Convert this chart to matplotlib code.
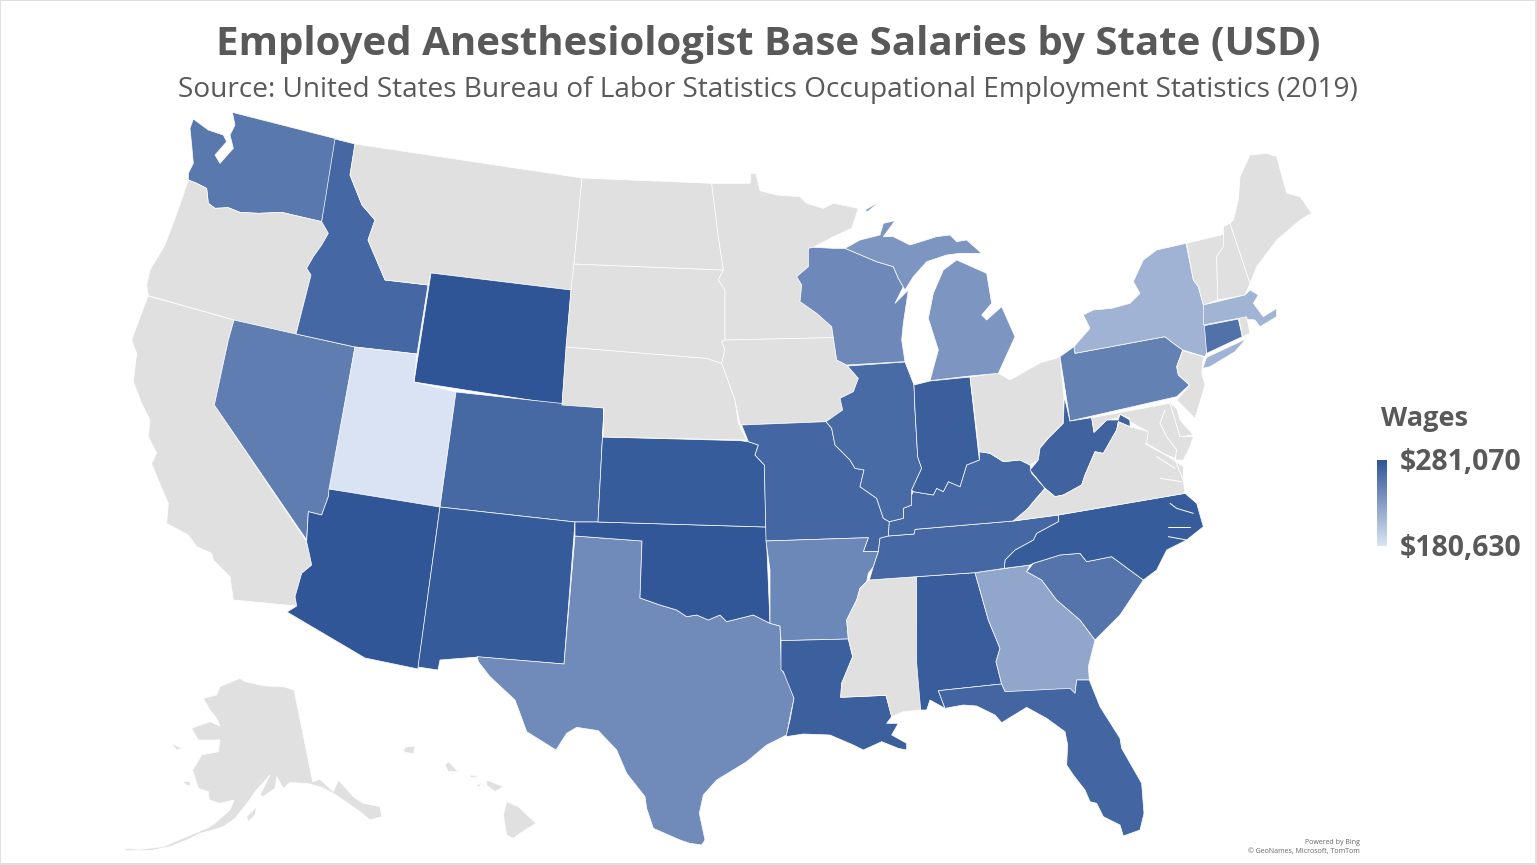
import numpy as np
import matplotlib
matplotlib.use("Agg")
import matplotlib.pyplot as plt
from matplotlib.colors import LinearSegmentedColormap, Normalize
from matplotlib.patches import Polygon, Rectangle

TITLE = "Employed Anesthesiologist Base Salaries by State (USD)"
SUBTITLE = "Source: United States Bureau of Labor Statistics Occupational Employment Statistics (2019)"
LEGEND_TITLE = "Wages"
CREDIT = ["Powered by Bing", "\u00a9 GeoNames, Microsoft, TomTom"]

WAGE_MIN = 180630
WAGE_MAX = 281070

# Wages read from shading. States with no published figure are absent (grey).
STATE_CODES = ["WY", "AZ", "OK", "NM", "KS", "NC", "AL", "LA", "IN", "WV", "FL", "KY", "TN", "MO",
               "ID", "CO", "IL", "SC", "CT", "WA", "NV", "PA", "AR", "TX", "WI", "MI", "GA", "NY", "MA", "UT"]
WAGES = [281070, 280000, 279500, 276500, 276000, 276000, 275000, 273000, 274000, 270500, 269000,
         268000, 268000, 268500, 268000, 267500, 266000, 259000, 261000, 256000, 253000, 250000,
         245000, 243000, 244000, 235000, 223800, 214800, 214000, 180630]


def z(points, x0, y0):
    return [(x0 + a / 3, y0 + b / 3) for a, b in points]


def w(points):  # west coast crop
    return z(points, 125, 105)


def c(points):  # California crop
    return z(points, 125, 340)


def t(points):  # Texas crop
    return z(points, 470, 600)


def g(points):  # Gulf crop
    return z(points, 770, 620)


def m(points):  # upper Midwest crop
    return z(points, 690, 160)


def r(points):  # river states crop
    return z(points, 740, 410)


def a(points):  # Atlantic crop
    return z(points, 1020, 380)


def l(points):  # Great Lakes crop
    return z(points, 780, 190)


def n(points):  # north-east crop
    return z(points, 1050, 140)


def k(points):  # Alaska and Hawaii crop
    return z(points, 120, 660)


# State outlines in its own pixel frame.
OUTLINES = {
    "WA": [w([(205,42),(250,75),(295,90),(305,110),(270,150),(285,175),(325,130),(315,90),(330,60),(322,22),(640,103),(590,350),(470,322),(400,325),(345,322),(310,308),(270,310),(250,295),(245,250),(215,235),(190,225),(190,205),(205,175),(200,120),(195,70)])],
    "OR": [w([(190,225),(215,235),(245,250),(250,295),(270,310),(310,308),(345,322),(400,325),(470,322),(590,350),(610,385),(590,420),(565,455),(545,490),(558,510),(512,688),(327,645),(70,572),(65,540),(75,495),(120,420),(150,340),(175,270)])],
    "CA": [[(148,296),(234,320)] + c([(310,0),(268,195),(545,605),(560,675),(530,700),(510,770),(515,798),(325,780),(315,710),(265,660),(260,640),(215,620),(190,585),(125,550),(130,490),(100,420),(80,370),(95,340),(70,290),(75,240),(50,190),(25,125),(35,40),(20,0)])],
    "NV": [[(234,320),(296,334),(355,347)] + c([(610,470),(590,525),(550,515),(545,600),(268,195),(310,0)])],
    "ID": [[(335,139),(355,144),(350,175),(362,205),(375,220),(368,240),(385,280),(428,285),(417,354),(355,347),(296,334)] + w([(558,510),(545,490),(565,455),(590,420),(610,385),(590,350)])],
    "MT": [[(355,144),(582,178),(574,264),(571,290),(431,273),(428,285),(385,280),(368,240),(375,220),(362,205),(350,175)]],
    "WY": [[(431,273),(571,290),(562,405),(414,382)]],
    "UT": [[(355,347),(417,354),(414,382),(456,392),(440,507),(329,489)]],
    "CO": [[(456,392),(604,408),(598,522),(575,522),(440,507)]],
    "AZ": [[(329,489),(440,507),(418,669),(365,658),(287,612)] + c([(515,798),(510,770),(530,700),(560,675),(545,605),(550,515),(590,525),(610,470)])],
    "NM": [[(440,507),(575,522),(564,664),(478,657),(440,660),(438,670),(418,667)]],
    "TX": [[(575,536),(642,541),(640,598)] + t([(570,15),(620,30),(650,50),(680,45),(715,60),(750,45),(770,65),(850,45),(900,70),(930,78),(935,210),(955,240),(972,295),(960,350),(950,405),(890,435),(830,485),(740,540),(700,585),(688,640),(705,720),(695,735),(660,730),(630,720),(550,685),(530,625),(525,590),(470,520),(440,450),(385,392),(320,382),(290,400),(258,450),(170,395),(150,340),(135,300),(60,230),(25,185),(22,170),(282,192)])],
    "OK": [[(575,522),(598,522),(766,527)] + t([(900,70)]) + t([(850,45),(770,65),(750,45),(715,60),(680,45),(650,50),(620,30),(570,15)]) + [(640,598),(642,541),(575,536)]],
    "KS": [[(603,437)] + r([(0,92),(25,95),(55,105),(45,135),(73,165)]) + [(766,527),(598,522),(604,408)]],
    "NE": [[(566,347)] + m([(50,595),(95,610),(110,650),(135,720),(145,790),(170,840)]) + [(603,437),(604,408),(562,405)]],
    "SD": [[(574,264)] + m([(100,330),(85,360),(105,390),(105,540),(95,545),(105,570),(95,610),(50,595)]) + [(566,347),(571,290)]],
    "ND": [[(582,178)] + m([(65,70),(85,230),(100,330)]) + [(574,264)]],
    "MN": [m([(65,70),(180,70),(183,40),(198,42),(210,92),(260,105),(330,110),(350,130),(400,145),(430,130),(505,145),(485,205),(430,230),(370,262),(355,265),(355,320),(320,350),(335,375),(330,425),(380,460),(425,500),(430,533),(105,540),(105,390),(85,360),(100,330),(85,230)])],
    "IA": [m([(105,540),(430,533),(440,600),(470,615),(505,655),(490,695),(450,715),(458,750),(430,800),(405,785),(150,795),(135,720),(110,650),(95,610),(105,570),(95,545)])],
    "MO": [r([(5,45),(258,35),(275,55),(285,105),(330,150),(345,175),(372,180),(360,230),(410,265),(430,325),(448,335),(445,378),(420,385),(415,425),(370,425),(385,383),(78,393),(73,165),(45,135),(55,105),(25,95)])],
    "AR": [r([(78,393),(385,383),(370,425),(415,425),(400,470),(385,490),(380,515),(360,535),(350,570)]) + g([(230,0),(235,57),(33,62)]) + t([(930,78),(900,70)]) + r([(90,480)])],
    "LA": [g([(33,62),(235,57),(248,110),(215,190),(212,232),(348,226),(365,290),(350,310),(385,310),(365,345),(410,370),(410,390),(385,385),(335,365),(280,390),(250,375),(180,345),(100,342),(48,350),(60,300),(72,235),(40,155),(33,150)])],
    "MS": [r([(388,510),(530,500)]) + g([(440,0),(452,270),(400,275),(365,290),(348,226),(212,232),(215,190),(248,110),(235,57),(230,0)]) + r([(350,570),(360,535),(380,515)])],
    "AL": [r([(530,500),(705,488)]) + g([(655,0),(690,85),(678,125),(695,192),(505,212),(525,265),(480,240),(470,270),(452,270),(440,130),(440,0)])],
    "GA": [r([(705,488),(870,465),(860,485),(905,510),(950,570)]) + g([(930,0),(975,60),(955,140),(958,180),(920,180),(915,220),(705,215),(695,192),(678,125),(690,85),(655,0)])],
    "FL": [g([(505,212),(695,192),(705,215),(900,205),(915,220),(920,180),(958,180),(990,260),(1050,355),(1055,385),(1115,490),(1122,580),(1110,630),(1060,648),(1050,615),(1000,590),(980,550),(960,545),(945,510),(910,465),(890,435),(893,375),(885,335),(830,295),(770,262),(695,308),(675,285),(620,258),(580,255),(525,265)])],
    "SC": [r([(860,485),(880,460),(960,435)]) + a([(180,520),(200,545),(275,530),(370,600)]) + [(1120,615),(1100,635)] + g([(975,60),(930,0)]) + r([(950,570),(905,510)])],
    "NC": [a([(495,340),(115,405)]) + r([(955,335),(890,370),(880,390),(825,420),(795,450),(793,475),(870,465),(880,460),(960,435)]) + a([(180,520),(200,545),(275,530),(370,600),(410,570),(440,510),(500,480),(550,440),(530,370)])],
    "TN": [r([(445,378),(522,372),(525,358),(820,333),(955,315),(955,335),(890,370),(880,390),(825,420),(795,450),(793,475),(705,488),(530,500),(388,510),(400,470),(415,425),(420,385)])],
    "KY": [r([(515,255),(520,245),(580,255),(590,235),(610,245),(625,215),(660,230),(680,165),(718,150),(718,125),(750,130),(790,155),(840,150),(870,165),(875,190),(915,235),(880,275),(860,300),(820,333),(525,358),(522,372),(445,378),(448,335),(490,325),(490,295),(515,285)])],
    "IL": [[(848,366),(905,362),(914,385)] + r([(525,0),(533,140),(545,175),(515,240),(515,285),(490,295),(490,325),(448,335),(430,325),(410,265),(360,230),(372,180),(345,175),(330,150),(285,105),(275,55),(258,35)]) + m([(458,750),(450,715),(490,695),(505,655),(470,615)])],
    "IN": [[(914,385),(930,381),(970,377)] + r([(718,150),(680,165),(660,230),(625,215),(610,245),(590,235),(580,255),(520,245),(515,240),(545,175),(533,140),(525,0)])],
    "OH": [[(970,377),(998,373),(1010,380),(1040,363),(1060,357),(1064,397),(1063,423),(1048,438),(1040,448),(1038,460),(1030,465)] + r([(840,150),(790,155),(750,130),(718,125)])],
    "WI": [m([(470,615),(440,600),(430,533),(425,500),(380,460),(330,425),(335,375),(320,350),(355,320),(355,265),(370,262)]) + l([(160,175),(195,175),(290,215),(340,230),(355,265),(370,290),(345,340),(385,300),(370,400),(365,450),(375,515)])],
    "MI": [l([(195,175),(240,150),(300,135),(310,100),(345,92),(310,140),(340,140),(390,165),(470,140),(510,135),(530,155),(560,150),(605,190),(540,190),(500,195),(440,215),(400,260),(375,300),(355,265),(340,230),(290,215)]),
           l([(450,572),(475,480),(445,385),(460,310),(490,240),(530,210),(620,250),(635,340),(605,375),(620,390),(665,350),(705,440),(655,550),(570,558)]),
           l([(255,60),(300,35),(262,65)])],
    "WV": [a([(133,50),(150,123),(215,113),(222,157),(260,120),(295,120),(300,103),(330,120),(330,140),(295,125),(290,150),(250,220),(225,215),(195,285),(185,315),(130,345),(105,350),(75,325),(30,270),(55,240),(60,205),(85,175),(130,130)])],
    "VA": [r([(820,333)]) + a([(30,380),(75,325),(105,350),(130,345),(185,315),(195,285),(225,215),(250,220),(290,150),(295,125),(330,140),(385,155),(380,190),(430,220),(490,260),(490,300),(495,340),(115,405)])],
    "MD": [a([(215,113),(450,70),(480,170),(520,170),(510,200),(490,240),(470,240),(430,220),(380,190),(385,155),(330,125),(330,115),(300,103),(290,115),(260,120),(222,157)])],
    "DE": [a([(450,70),(470,85),(480,120),(520,165),(480,170)])],
    "PA": [n([(30,650),(72,620),(75,640),(345,590),(370,610),(398,630),(380,680),(385,705),(418,735),(380,770),(60,843)])],
    "NY": [n([(72,620),(120,565),(100,525),(130,510),(185,505),(240,490),(270,460),(250,425),(280,360),(320,330),(408,310),(430,420),(445,440),(460,495),(473,630),(465,650),(398,630),(370,610),(345,590),(75,640)]),
           n([(458,685),(470,652),(588,597),(555,635),(480,680)])],
    "VT": [n([(410,310),(520,283),(520,320),(500,350),(503,480),(460,495),(445,440),(430,420)])],
    "NH": [n([(520,260),(540,250),(600,430),(585,465),(503,480),(500,350),(520,320)])],
    "ME": [n([(600,430),(620,380),(680,300),(750,240),(785,220),(750,170),(710,160),(680,50),(650,40),(600,45),(570,110),(565,180),(550,240),(540,250)])],
    "MA": [n([(460,495),(585,465),(600,450),(625,465),(610,490),(640,530),(680,505),(680,530),(630,560),(615,540),(565,535),(460,555)])],
    "CT": [n([(463,557),(565,537),(577,590),(470,640)])],
    "RI": [n([(567,535),(590,530),(600,580),(577,590)])],
    "NJ": [n([(398,632),(460,650),(455,700),(465,735),(435,835),(380,780),(420,735),(385,705),(380,680)])],
    "AK": [k([(250,115),(290,105),(300,80),(335,65),(360,55),(375,65),(400,70),(435,78),(490,80),(522,90),(578,365),(600,358),(640,395),(655,360),(700,410),(730,430),(780,440),(785,470),(750,480),(720,455),(670,420),(640,400),(600,380),(560,370),(510,368),(490,385),(470,350),(465,385),(430,410),(420,405),(450,345),(405,395),(385,425),(345,475),(310,500),(280,510),(240,520),(200,540),(150,560),(90,572),(20,572),(10,565),(60,568),(130,560),(200,530),(260,505),(285,490),(330,450),(342,420),(300,430),(268,420),(265,395),(235,385),(218,330),(245,285),(295,275),(300,240),(235,240),(215,205),(270,185),(300,198),(290,175),(270,150)]),
           k([(190,365),(210,365),(212,378),(198,375)]),
           k([(152,250),(185,265),(170,270)]),
           k([(380,470),(410,440),(405,465),(385,485)])],
    "HI": [k([(1160,425),(1195,440),(1248,490),(1200,520),(1180,535),(1160,525),(1150,465)]),
           k([(1100,360),(1150,380),(1125,395),(1100,375)]),
           k([(985,305),(1015,335),(985,335),(975,315)]),
           k([(855,262),(885,258),(880,282),(850,275)]),
           k([(1050,345),(1090,350),(1050,352)]),
           k([(1070,370),(1085,375),(1075,382)])],
}

# Water cut through the coastal states.
WATER = [
    a([(435,90),(420,130),(440,170),(470,210),(465,240),(490,300)]),
    a([(375,190),(400,205),(440,225),(465,235)]),
    a([(410,230),(465,265)]),
    a([(420,295),(485,305)]),
    a([(450,370),(470,385),(520,400)]),
    a([(445,440),(510,440)]),
    a([(445,470),(500,480)]),
]

GREY = "#E0E0E0"
LOW = "#DAE3F3"
HIGH = "#2F5597"
TEXT = "#595959"
cmap = LinearSegmentedColormap.from_list("wages", [LOW, HIGH])
norm = Normalize(WAGE_MIN, WAGE_MAX)
wage_by_state = dict(zip(STATE_CODES, WAGES))

fig = plt.figure(figsize=(15.37, 8.65), dpi=100, facecolor="white")
ax = fig.add_axes([0, 0, 1, 1])
ax.set_xlim(0, 1537)
ax.set_ylim(865, 0)
ax.axis("off")

for code, parts in OUTLINES.items():
    wage = wage_by_state.get(code)
    color = GREY if wage is None else cmap(norm(wage))
    for part in parts:
        ax.add_patch(Polygon(part, closed=True, facecolor=color, edgecolor="white", linewidth=0.5, joinstyle="round"))

for path in WATER:
    xs, ys = zip(*path)
    ax.plot(xs, ys, color="white", lw=0.7, solid_capstyle="round")

ax.text(768, 44, TITLE, ha="center", va="center", fontsize=29, fontfamily="Open Sans", fontweight="bold", color=TEXT)
ax.text(768, 90, SUBTITLE, ha="center", va="center", fontsize=20.2, fontfamily="Open Sans", color=TEXT)
ax.text(1381, 419, LEGEND_TITLE, ha="left", va="center", fontsize=19.5, fontfamily="Open Sans", fontweight="bold", color=TEXT)
ax.text(1400, 463, f"${WAGE_MAX:,}", ha="left", va="center", fontsize=20.4, fontfamily="Open Sans", fontweight="bold", color=TEXT)
ax.text(1400, 549, f"${WAGE_MIN:,}", ha="left", va="center", fontsize=20.4, fontfamily="Open Sans", fontweight="bold", color=TEXT)
ax.text(1360, 842, CREDIT[0], ha="right", va="center", fontsize=5, fontfamily="Open Sans", color="#666666")
ax.text(1360, 852, CREDIT[1], ha="right", va="center", fontsize=5, fontfamily="Open Sans", color="#666666")

gradient = np.linspace(1, 0, 128).reshape(-1, 1)
ax.imshow(gradient, cmap=cmap, vmin=0, vmax=1, extent=(1377, 1387, 546, 460), aspect="auto", zorder=3)
ax.set_xlim(0, 1537)
ax.set_ylim(865, 0)

ax.add_patch(Rectangle((0, 0), 1536, 864, fill=False, edgecolor="#D9D9D9", linewidth=1.2, zorder=5))

fig.savefig("out.png", dpi=100, facecolor="white")
